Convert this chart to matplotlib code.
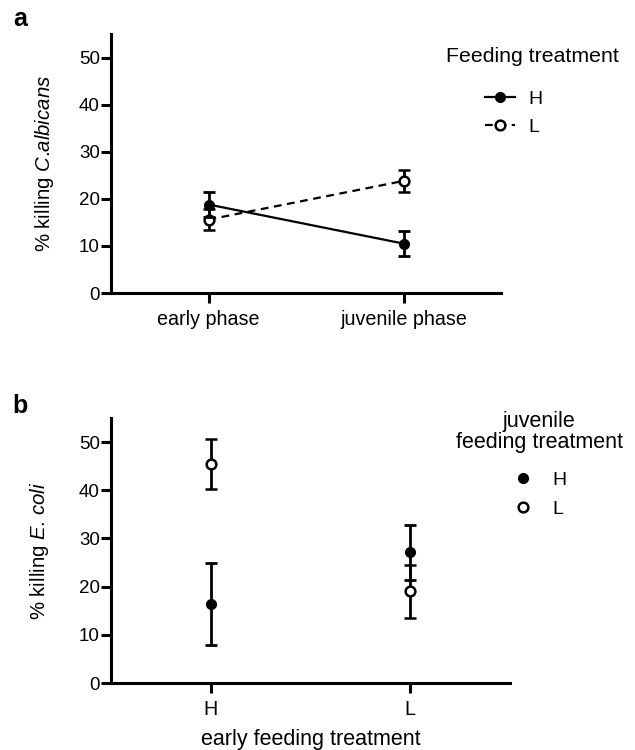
import matplotlib

matplotlib.use("Agg")

import matplotlib.pyplot as plt
from matplotlib.lines import Line2D

# ============================================================
# DATA
# ============================================================

phase_labels = ["early phase", "juvenile phase"]
calb_high_mean = [18.8, 10.5]
calb_high_err = [2.6, 2.6]
calb_low_mean = [15.6, 23.8]
calb_low_err = [2.3, 2.3]

early_labels = ["H", "L"]
ecoli_high_mean = [16.4, 27.1]
ecoli_high_err = [8.6, 5.7]
ecoli_low_mean = [45.5, 19.1]
ecoli_low_err = [5.2, 5.5]

y_ticks = [0, 10, 20, 30, 40, 50]

# ============================================================
# STYLE
# ============================================================

plt.rcParams["font.family"] = ["Liberation Sans", "DejaVu Sans"]
plt.rcParams["mathtext.fontset"] = "custom"
plt.rcParams["mathtext.rm"] = "Liberation Sans"
plt.rcParams["mathtext.it"] = "Liberation Sans:italic"
plt.rcParams["font.size"] = 14

MARKER_SIZE = 7
CAP_SIZE = 4.3


def style_axis(axis):
    for side in ["top", "right"]:
        axis.spines[side].set_visible(False)
    for side in ["left", "bottom"]:
        axis.spines[side].set_linewidth(2.2)
    axis.tick_params(
        axis="both",
        direction="out",
        length=7,
        width=2.2,
    )
    axis.tick_params(axis="y", pad=1, labelsize=13.5)
    axis.tick_params(axis="x", pad=5.5, labelsize=14.2)
    axis.set_ylim(0, 55)
    axis.set_yticks(y_ticks)
    axis.set_xlim(-0.5, 1.5)
    axis.set_xticks([0, 1])


# ============================================================
# CREATE FIGURE
# ============================================================

figure = plt.figure(figsize=(6.35, 7.5), dpi=100)

axis_a = figure.add_axes([0.1748, 0.6093, 0.6142, 0.3453])
axis_b = figure.add_axes([0.1748, 0.0893, 0.6283, 0.3533])

x_positions = [0, 1]

# ---------------- panel a ----------------
axis_a.errorbar(
    x_positions,
    calb_low_mean,
    yerr=calb_low_err,
    color="black",
    linestyle=(0, (3.5, 2.5)),
    linewidth=1.6,
    marker="o",
    markersize=MARKER_SIZE,
    markerfacecolor="white",
    markeredgecolor="black",
    markeredgewidth=1.8,
    elinewidth=2,
    capsize=CAP_SIZE,
    capthick=2,
    zorder=3,
)

axis_a.errorbar(
    x_positions,
    calb_high_mean,
    yerr=calb_high_err,
    color="black",
    linestyle="-",
    linewidth=1.6,
    marker="o",
    markersize=MARKER_SIZE,
    markerfacecolor="black",
    markeredgecolor="black",
    elinewidth=2,
    capsize=CAP_SIZE,
    capthick=2,
    zorder=4,
)

style_axis(axis_a)
axis_a.set_xticklabels(phase_labels)
axis_a.set_ylabel(r"% killing $\it{C}$.$\it{albicans}$", fontsize=14.7)
axis_a.yaxis.set_label_coords(-0.141, 0.5)

legend_a_handles = [
    Line2D([0], [0], color="black", linestyle="-", linewidth=1.6,
           marker="o", markersize=MARKER_SIZE, markerfacecolor="black"),
    Line2D([0], [0], color="black", linestyle=(0, (3.5, 2.5)), linewidth=1.6,
           marker="o", markersize=MARKER_SIZE, markerfacecolor="white",
           markeredgewidth=1.8),
]
figure.legend(
    legend_a_handles,
    ["H", "L"],
    loc="center left",
    bbox_to_anchor=(0.764, 0.849),
    frameon=False,
    handlelength=1.55,
    handletextpad=0.65,
    labelspacing=0.52,
    borderpad=0,
    borderaxespad=0,
    fontsize=14,
)
figure.text(0.838, 0.924, "Feeding treatment", ha="center", va="center",
            fontsize=15.3)

# ---------------- panel b ----------------
axis_b.errorbar(
    x_positions,
    ecoli_low_mean,
    yerr=ecoli_low_err,
    color="black",
    linestyle="none",
    marker="o",
    markersize=MARKER_SIZE,
    markerfacecolor="white",
    markeredgecolor="black",
    markeredgewidth=1.8,
    elinewidth=2,
    capsize=CAP_SIZE,
    capthick=2,
    zorder=3,
)

axis_b.errorbar(
    x_positions,
    ecoli_high_mean,
    yerr=ecoli_high_err,
    color="black",
    linestyle="none",
    marker="o",
    markersize=MARKER_SIZE,
    markerfacecolor="black",
    markeredgecolor="black",
    elinewidth=2,
    capsize=CAP_SIZE,
    capthick=2,
    zorder=4,
)

style_axis(axis_b)
axis_b.set_xticklabels(early_labels)
axis_b.set_ylabel(r"% killing $\it{E}$. $\it{coli}$", fontsize=14.7)
axis_b.yaxis.set_label_coords(-0.15, 0.5)
axis_b.set_xlabel("early feeding treatment", fontsize=15.5)
axis_b.xaxis.set_label_coords(0.5, -0.175)

legend_b_handles = [
    Line2D([0], [0], color="black", linestyle="none",
           marker="o", markersize=MARKER_SIZE, markerfacecolor="black"),
    Line2D([0], [0], color="black", linestyle="none",
           marker="o", markersize=MARKER_SIZE, markerfacecolor="white",
           markeredgewidth=1.8),
]
figure.legend(
    legend_b_handles,
    ["H", "L"],
    loc="center left",
    bbox_to_anchor=(0.808, 0.341),
    frameon=False,
    handlelength=1.0,
    handletextpad=1.0,
    labelspacing=0.59,
    borderpad=0,
    borderaxespad=0,
    fontsize=14,
)
figure.text(0.849, 0.424, "juvenile\nfeeding treatment", ha="center",
            va="center", fontsize=15.5, linespacing=1.05)

# ---------------- panel letters ----------------
figure.text(0.032, 0.974, "a", fontsize=18, fontweight="bold",
            ha="center", va="center")
figure.text(0.032, 0.4587, "b", fontsize=18, fontweight="bold",
            ha="center", va="center")

figure.savefig("out.png", dpi=100)
